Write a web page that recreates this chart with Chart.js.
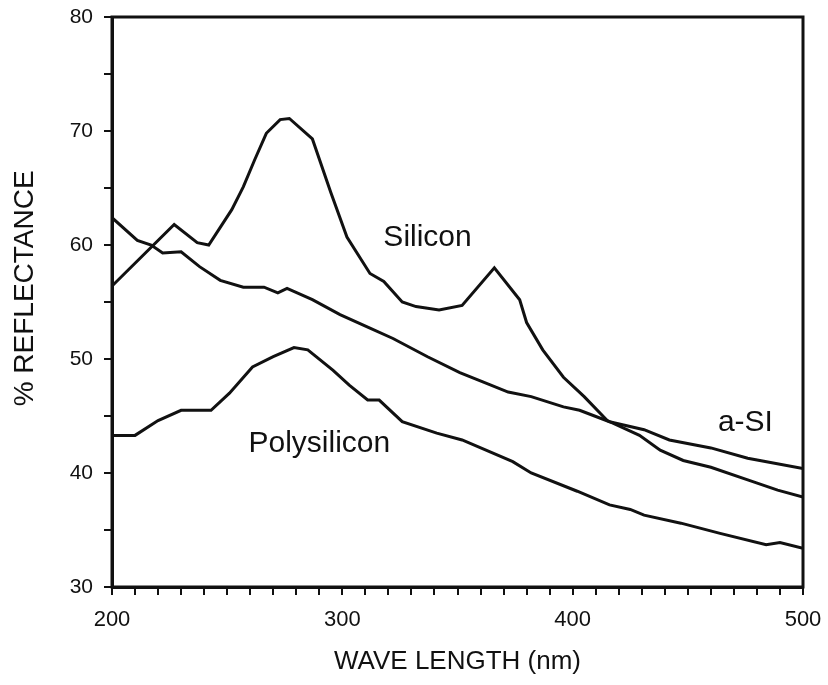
<!DOCTYPE html>
<html>
<head>
<meta charset="utf-8">
<script src="https://cdn.jsdelivr.net/npm/chart.js@4/dist/chart.umd.min.js"></script>
<style>
  html, body { margin: 0; padding: 0; background: #fff; }
  #wrap { width: 828px; height: 685px; }
</style>
</head>
<body>
<div id="wrap"><canvas id="chart" width="828" height="685"></canvas></div>
<script>
/* ================= DATA ================= */
const siliconNm = [200, 227, 237, 242, 252, 257, 262, 267, 273, 277, 287, 295, 302, 312, 318, 326, 332, 342, 352, 366, 377, 380, 387, 396, 405, 415, 429, 438, 448, 460, 476, 489, 500];
const siliconPct = [56.4, 61.8, 60.2, 60.0, 63.1, 65.1, 67.5, 69.8, 71.0, 71.1, 69.3, 64.6, 60.7, 57.5, 56.8, 55.0, 54.6, 54.3, 54.7, 58.0, 55.2, 53.2, 50.8, 48.4, 46.7, 44.6, 43.3, 42.0, 41.1, 40.5, 39.4, 38.5, 37.9];

const aSiNm = [200, 211, 217, 222, 230, 238, 247, 257, 266, 272, 276, 287, 299, 312, 322, 337, 351, 361, 372, 382, 396, 403, 416, 431, 442, 460, 476, 500];
const aSiPct = [62.4, 60.4, 60.0, 59.3, 59.4, 58.1, 56.9, 56.3, 56.3, 55.8, 56.2, 55.2, 53.9, 52.7, 51.8, 50.2, 48.8, 48.0, 47.1, 46.7, 45.8, 45.5, 44.5, 43.8, 42.9, 42.2, 41.3, 40.4];

const polyNm = [200, 210, 220, 230, 243, 251, 261, 270, 279, 285, 296, 303, 311, 316, 326, 341, 352, 374, 382, 402, 416, 425, 431, 447, 464, 484, 490, 500];
const polyPct = [43.3, 43.3, 44.6, 45.5, 45.5, 47.0, 49.3, 50.2, 51.0, 50.8, 49.0, 47.7, 46.4, 46.4, 44.5, 43.5, 42.9, 41.0, 40.0, 38.4, 37.2, 36.8, 36.3, 35.6, 34.7, 33.7, 33.9, 33.4];

const xLabelTicks = [200, 300, 400, 500];
const yLabelTicks = [30, 40, 50, 60, 70, 80];

// curve names placed beside the curves (wavelength, reflectance)
const curveNames = ["Silicon", "a-SI", "Polysilicon"];
const curveNameNm = [337, 475, 290];
const curveNamePct = [60.6, 44.4, 42.6];

const yTitle = "% REFLECTANCE";
const xTitle = "WAVE LENGTH (nm)";

/* ================= HELPERS ================= */
const toPoints = (xs, ys) => xs.map((x, i) => ({ x, y: ys[i] }));
const INK = "#111";
const FONT = "'Liberation Sans', Arial, sans-serif";

/* ================= PLUGINS ================= */
const frame = {
    id: "frame",
    afterDatasetsDraw(chart) {
        const { ctx, chartArea: a } = chart;
        ctx.save();
        ctx.strokeStyle = INK;
        ctx.lineWidth = 3;
        ctx.strokeRect(a.left, a.top, a.right - a.left, a.bottom - a.top);
        ctx.restore();
    }
};

const texts = {
    id: "texts",
    afterDraw(chart) {
        const { ctx, scales: { x, y } } = chart;
        ctx.save();
        ctx.fillStyle = INK;
        ctx.textAlign = "center";
        ctx.textBaseline = "middle";

        ctx.font = "30px " + FONT;
        curveNames.forEach((name, i) => {
            ctx.fillText(name, x.getPixelForValue(curveNameNm[i]), y.getPixelForValue(curveNamePct[i]));
        });

        // y axis title, sitting a little above the centre of the axis
        ctx.font = "28px " + FONT;
        ctx.translate(25, y.getPixelForValue(56.2));
        ctx.rotate(-Math.PI / 2);
        ctx.fillText(yTitle, 0, 0);
        ctx.restore();
    }
};

/* ================= CHART ================= */
const line = (label, xs, ys) => ({
    label,
    data: toPoints(xs, ys),
    borderColor: INK,
    borderWidth: 3,
    pointRadius: 0,
    tension: 0,
    fill: false
});

new Chart(document.getElementById("chart"), {
    type: "line",
    data: {
        datasets: [
            line("Silicon", siliconNm, siliconPct),
            line("a-SI", aSiNm, aSiPct),
            line("Polysilicon", polyNm, polyPct)
        ]
    },
    options: {
        responsive: false,
        animation: false,
        layout: { padding: { left: 0, right: 25, top: 17, bottom: 0 } },
        plugins: {
            legend: { display: false },
            tooltip: { enabled: false }
        },
        scales: {
            x: {
                type: "linear",
                min: 200,
                max: 500,
                afterFit: s => { s.height = 98; s.paddingRight = 0; s.paddingLeft = 0; },
                border: { color: INK, width: 3 },
                grid: { drawOnChartArea: false, color: INK, tickLength: 8, lineWidth: 2 },
                ticks: {
                    stepSize: 10,
                    autoSkip: false,
                    maxRotation: 0,
                    padding: 12,
                    color: INK,
                    font: { family: FONT, size: 22 },
                    callback: v => xLabelTicks.includes(v) ? String(v) : ""
                },
                title: {
                    display: true,
                    text: xTitle,
                    color: INK,
                    font: { family: FONT, size: 26 },
                    padding: { top: 0, bottom: 8 }
                }
            },
            y: {
                min: 30,
                max: 80,
                afterFit: s => { s.width = 112; s.paddingTop = 0; s.paddingBottom = 0; },
                border: { color: INK, width: 3 },
                grid: { drawOnChartArea: false, color: INK, tickLength: 8, lineWidth: 2 },
                ticks: {
                    stepSize: 5,
                    autoSkip: false,
                    padding: 11,
                    color: INK,
                    font: { family: FONT, size: 21 },
                    callback: v => yLabelTicks.includes(v) ? String(v) : ""
                }
            }
        }
    },
    plugins: [frame, texts]
});
</script>
</body>
</html>
